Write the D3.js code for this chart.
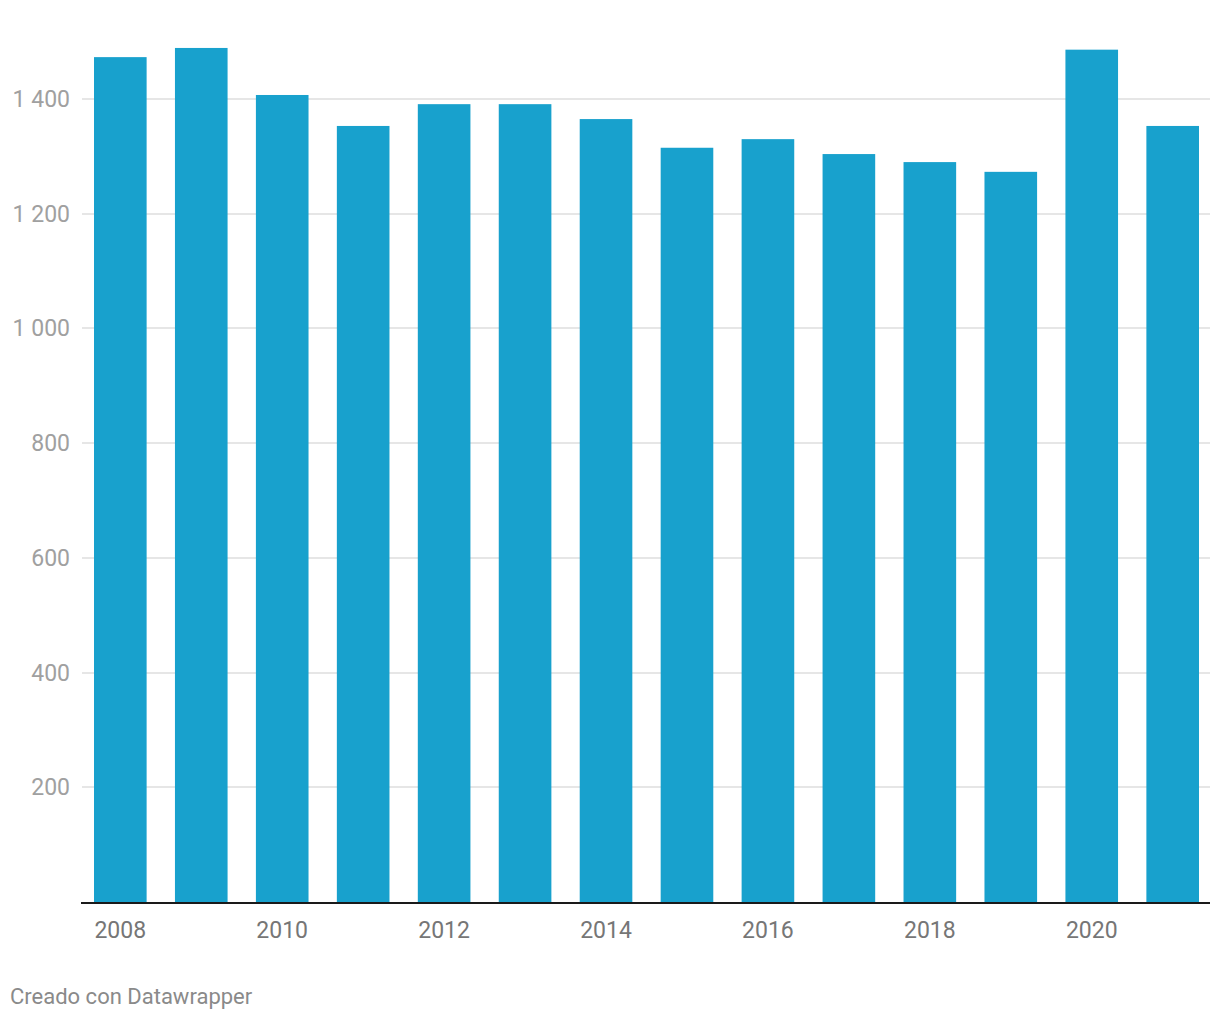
<!DOCTYPE html>
<html>
<head>
<meta charset="utf-8">
<script src="https://cdn.jsdelivr.net/npm/d3@7"></script>
<style>
  html, body { margin: 0; padding: 0; background: #fff; }
  svg { display: block; font-family: Roboto, "Noto Sans", sans-serif; }
</style>
</head>
<body>
<svg id="chart" width="1220" height="1020"></svg>
<script>
const years = [2008, 2009, 2010, 2011, 2012, 2013, 2014, 2015, 2016, 2017, 2018, 2019, 2020, 2021];
const values = [1473, 1489, 1407, 1353, 1391, 1391, 1365, 1315, 1330, 1304, 1290, 1273, 1486, 1353];
const yTicks = [200, 400, 600, 800, 1000, 1200, 1400];
const xTickYears = [2008, 2010, 2012, 2014, 2016, 2018, 2020];
const footer = "Creado con Datawrapper";

const svg = d3.select("#chart");
const x = d3.scaleBand().domain(years).range([94, 1199]).paddingInner(0.35).paddingOuter(0);
const y = d3.scaleLinear().domain([0, 1400]).range([902, 99]);

// grid
svg.append("g").selectAll("line").data(yTicks).join("line")
  .attr("x1", 82).attr("x2", 1210)
  .attr("y1", d => Math.round(y(d))).attr("y2", d => Math.round(y(d)))
  .attr("stroke", "#e6e6e6").attr("stroke-width", 2);

// y labels
svg.append("g").selectAll("text").data(yTicks).join("text")
  .attr("x", 70).attr("y", d => y(d)).attr("dy", "0.35em")
  .attr("text-anchor", "end").attr("font-size", 23).attr("fill", "#a0a0a0")
  .text(d => d >= 1000 ? String(d).slice(0, -3) + " " + String(d).slice(-3) : d);

// bars
svg.append("g").selectAll("rect").data(years).join("rect")
  .attr("x", d => x(d)).attr("width", x.bandwidth())
  .attr("y", (d, i) => y(values[i])).attr("height", (d, i) => y(0) - y(values[i]))
  .attr("fill", "#18a1cd");

// baseline
svg.append("line").attr("x1", 81).attr("x2", 1210)
  .attr("y1", 903).attr("y2", 903).attr("stroke", "#1a1a1a").attr("stroke-width", 2);

// x labels
svg.append("g").selectAll("text").data(xTickYears).join("text")
  .attr("x", d => x(d) + x.bandwidth() / 2).attr("y", 938)
  .attr("text-anchor", "middle").attr("font-size", 23).attr("fill", "#767676")
  .text(d => d);

// footer
svg.append("text").attr("x", 10).attr("y", 1004)
  .attr("font-size", 22).attr("fill", "#8a8a8a").text(footer);
</script>
</body>
</html>
